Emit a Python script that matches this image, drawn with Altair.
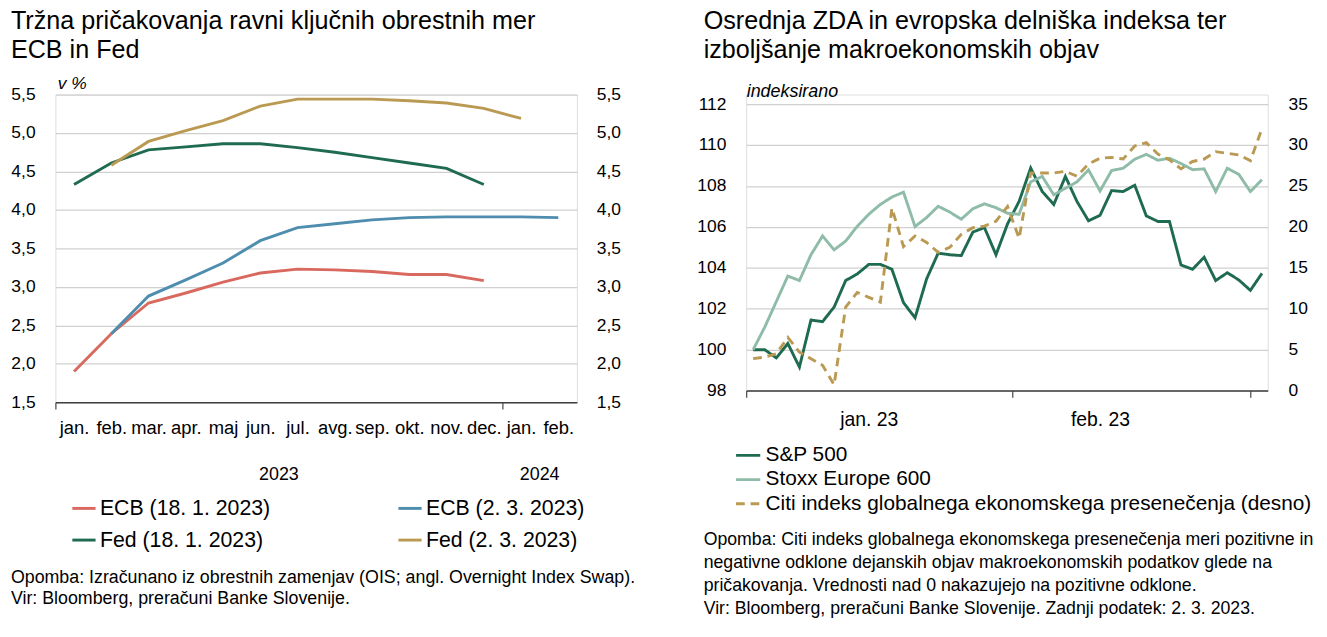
import altair as alt
import pandas as pd

FONT = "Liberation Sans, Arial, sans-serif"

# ---------------- left panel data ----------------
MONTHS = ["jan.", "feb.", "mar.", "apr.", "maj", "jun.", "jul.", "avg.",
          "sep.", "okt.", "nov.", "dec.", "jan.", "feb."]
YEARS = ["2023", "2024"]
YEAR_POS = [5.5, 12.5]
SER_L = ["ECB (18. 1. 2023)", "ECB (2. 3. 2023)", "Fed (18. 1. 2023)", "Fed (2. 3. 2023)"]
COL_L = ["#D9695F", "#4F8DAF", "#1F6B4F", "#BA9A52"]
ECB_JAN = [1.90, 2.39, 2.79, 2.92, 3.06, 3.18, 3.23, 3.22, 3.20, 3.16, 3.16, 3.08]
ECB_MAR = [None, 2.39, 2.88, 3.09, 3.31, 3.60, 3.77, 3.82, 3.87, 3.90, 3.91, 3.91, 3.91, 3.90]
FED_JAN = [4.33, 4.61, 4.78, 4.82, 4.86, 4.86, 4.81, 4.75, 4.68, 4.61, 4.54, 4.33]
FED_MAR = [None, 4.58, 4.89, 5.03, 5.16, 5.35, 5.44, 5.44, 5.44, 5.42, 5.39, 5.32, 5.19]
Y_TICKS_L = [1.5, 2.0, 2.5, 3.0, 3.5, 4.0, 4.5, 5.0, 5.5]
TITLE_L = ["Tržna pričakovanja ravni ključnih obrestnih mer", "ECB in Fed"]
NOTE_L = ["Opomba: Izračunano iz obrestnih zamenjav (OIS; angl. Overnight Index Swap).",
          "Vir: Bloomberg, preračuni Banke Slovenije."]

# ---------------- right panel data ----------------
SPX = [100.0, 100.0, 99.6, 100.3, 99.15, 101.45, 101.37, 102.08, 103.38, 103.7,
       104.17, 104.17, 103.93, 102.3, 101.56, 103.46, 104.72, 104.64, 104.6, 105.75,
       105.97, 104.64, 106.15, 107.25, 108.88, 107.73, 107.1, 108.47, 107.25, 106.3,
       106.57, 107.78, 107.73, 108.04, 106.54, 106.27, 106.27, 104.14, 103.93, 104.52,
       103.38, 103.76, 103.41, 102.9, 103.73]
STOXX = [100.0, 101.1, 102.35, 103.6, 103.38, 104.64, 105.56, 104.88, 105.31, 106.03,
         106.62, 107.1, 107.46, 107.7, 106.02, 106.46, 107.01, 106.73, 106.38, 106.89,
         107.13, 106.94, 106.67, 106.62, 108.2, 108.47, 107.57, 107.89, 108.2, 108.79,
         107.76, 108.76, 108.87, 109.31, 109.55, 109.26, 109.36, 109.1, 108.8, 108.84,
         107.73, 108.87, 108.57, 107.73, 108.31]
CITI = [3.9, 4.1, 4.5, 6.5, 4.7, 3.9, 3.1, 0.7, 10.2, 12.0,
        11.4, 10.8, 22.3, 17.6, 18.9, 18.1, 16.9, 17.5, 19.1, 19.9,
        20.1, 20.7, 22.5, 18.6, 26.6, 26.6, 26.6, 26.8, 26.2, 27.7,
        28.4, 28.5, 28.3, 29.9, 30.3, 28.9, 28.2, 27.1, 28.0, 28.3,
        29.2, 29.0, 28.8, 28.1, 32.0]
SER_R = ["S&P 500", "Stoxx Europe 600", "Citi indeks globalnega ekonomskega presenečenja (desno)"]
COL_R = ["#1F6B4F", "#8FBCA8", "#BA9A52"]
DASH_R = [[1, 0], [1, 0], [9, 6]]
MONTH_LABELS_R = ["jan. 23", "feb. 23"]
MONTH_LABEL_POS_R = [10, 30]
MONTH_TICKS_R = [-0.6, 22.4, 43]
Y_TICKS_R1 = [98, 100, 102, 104, 106, 108, 110, 112]
Y_TICKS_R2 = [0, 5, 10, 15, 20, 25, 30, 35]
TITLE_R = ["Osrednja ZDA in evropska delniška indeksa ter", "izboljšanje makroekonomskih objav"]
NOTE_R = ["Opomba: Citi indeks globalnega ekonomskega presenečenja meri pozitivne in",
          "negativne odklone dejanskih objav makroekonomskih podatkov glede na",
          "pričakovanja. Vrednosti nad 0 nakazujejo na pozitivne odklone.",
          "Vir: Bloomberg, preračuni Banke Slovenije. Zadnji podatek: 2. 3. 2023."]

W = 539
H_L = 318
H_R = 306
# right panel: the 112 / 35 gridline sits 10 px below the panel top
R1_TOP = 98 + 14 * H_R / 296.0
R2_TOP = 35 * H_R / 296.0

# ---------------- build tables ----------------
rows = []
for name, vals in zip(SER_L, [ECB_JAN, ECB_MAR, FED_JAN, FED_MAR]):
    for i, v in enumerate(vals):
        if v is not None:
            rows.append({"i": i, "v": v, "s": name})
df_l = pd.DataFrame(rows)
df_years = pd.DataFrame({"i": YEAR_POS, "t": YEARS})
df_note_l = pd.DataFrame({"t": ["\n".join(NOTE_L)]})

rows = []
for name, vals in zip(SER_R[:2], [SPX, STOXX]):
    for i, v in enumerate(vals):
        rows.append({"i": i, "v": v, "s": name})
df_idx = pd.DataFrame(rows)
df_citi = pd.DataFrame({"i": list(range(len(CITI))), "v": CITI, "s": SER_R[2]})
df_note_r = pd.DataFrame({"t": ["\n".join(NOTE_R)]})

GRID = "#D0D0D0"
AXIS = "#404040"


def title_layers(lines, x):
    out = []
    for k, line in enumerate(lines):
        out.append(alt.Chart(pd.DataFrame({"t": [line]})).mark_text(
            fontSize=26, font=FONT, color="black", align="left", baseline="middle").encode(
            x=alt.value(x), y=alt.value(-76 + 30 * k), text="t:N"))
    return out


# ---------------- left panel ----------------
month_expr = "[" + ",".join("'%s'" % m for m in MONTHS) + "]"
xl_vals = [-0.5] + list(range(len(MONTHS))) + [11.5]
x_left = alt.X("i:Q",
               scale=alt.Scale(domain=[-0.5, 13.5], nice=False, zero=False),
               axis=alt.Axis(values=xl_vals,
                             labelExpr="datum.value == floor(datum.value) ? %s[datum.value] : ''" % month_expr,
                             tickOpacity={"condition": {"test": "datum.value != floor(datum.value)", "value": 1}, "value": 0},
                             tickSize=7, tickColor=AXIS, tickWidth=1.2,
                             domainColor=AXIS, domainWidth=1.5,
                             labelPadding=10, labelFontSize=19, labelFont=FONT, labelColor="black",
                             labelOverlap=False, labelFlush=False, labelBound=False,
                             grid=False, title=None))

y_scale_l = alt.Scale(domain=[1.5, 5.5], nice=False, zero=False)
comma = "replace(format(datum.value, '.1f'), '.', ',')"

lines_l = alt.Chart(df_l).mark_line(strokeWidth=3).encode(
    x=x_left,
    y=alt.Y("v:Q", scale=y_scale_l,
            axis=alt.Axis(values=Y_TICKS_L, labelExpr=comma, orient="left",
                          domain=False, ticks=False, grid=True, gridColor=GRID, gridWidth=1.3,
                          labelPadding=21, labelFontSize=18, labelFont=FONT, labelColor="black",
                          title="v %", titleAngle=0, titleAlign="left", titleBaseline="alphabetic",
                          titleX=2, titleY=-6, titleFontSize=18, titleFont=FONT,
                          titleFontStyle="italic", titleFontWeight="normal", titleColor="black")),
    color=alt.Color("s:N", scale=alt.Scale(domain=SER_L, range=COL_L),
                    legend=alt.Legend(orient="none", legendX=16, legendY=414, columns=2,
                                      direction="horizontal",
                                      columnPadding=125, rowPadding=8, title=None,
                                      symbolType="stroke", symbolSize=576, symbolStrokeWidth=3,
                                      labelFontSize=22, labelFont=FONT, labelColor="black",
                                      labelOffset=3, labelLimit=400)),
)

mirror_l = alt.Chart(df_l).mark_line(strokeOpacity=0).encode(
    x=x_left,
    y=alt.Y("v:Q", scale=y_scale_l,
            axis=alt.Axis(values=Y_TICKS_L, labelExpr=comma, orient="right",
                          domain=False, ticks=False, grid=False,
                          labelPadding=20, labelFontSize=18, labelFont=FONT, labelColor="black",
                          title=None)),
)

years_l = alt.Chart(df_years).mark_text(fontSize=18.5, font=FONT, color="black", baseline="middle").encode(
    x=x_left, y=alt.value(H_L + 74), text="t:N")

note_l = alt.Chart(df_note_l).mark_text(fontSize=18.4, font=FONT, color="black", align="left",
                                        baseline="middle", lineBreak="\n", lineHeight=22).encode(
    x=alt.value(-46), y=alt.value(499), text="t:N")

left = alt.layer(lines_l, mirror_l, years_l, note_l, *title_layers(TITLE_L, -46)).resolve_axis(
    y="independent").properties(width=W, height=H_L)

# ---------------- right panel ----------------
xr_vals = MONTH_TICKS_R + MONTH_LABEL_POS_R
lab_r = "datum.value == %d ? '%s' : datum.value == %d ? '%s' : ''" % (
    MONTH_LABEL_POS_R[0], MONTH_LABELS_R[0], MONTH_LABEL_POS_R[1], MONTH_LABELS_R[1])
tick_test = " || ".join("datum.value == %s" % t for t in MONTH_TICKS_R)
x_right = alt.X("i:Q",
                scale=alt.Scale(domain=[-0.6, 44.5], nice=False, zero=False),
                axis=alt.Axis(values=xr_vals, labelExpr=lab_r,
                              tickOpacity={"condition": {"test": tick_test, "value": 1}, "value": 0},
                              tickSize=7, tickColor=AXIS, tickWidth=1.2,
                              domainColor=AXIS, domainWidth=1.5,
                              labelPadding=13.5, labelFontSize=20, labelFont=FONT, labelColor="black",
                              labelOverlap=False, labelFlush=False, labelBound=False,
                              grid=False, title=None))

color_r = alt.Color("s:N", scale=alt.Scale(domain=SER_R, range=COL_R),
                    legend=alt.Legend(orient="none", legendX=-12, legendY=359, direction="vertical",
                                      title=None, symbolType="stroke", symbolSize=625,
                                      symbolStrokeWidth=3, rowPadding=0,
                                      labelFontSize=21.5, labelFont=FONT, labelColor="black",
                                      labelOffset=4, labelLimit=700))
dash_r = alt.StrokeDash("s:N", scale=alt.Scale(domain=SER_R, range=DASH_R), legend=None)

idx_lines = alt.Chart(df_idx).mark_line(strokeWidth=3).encode(
    x=x_right,
    y=alt.Y("v:Q", scale=alt.Scale(domain=[98, R1_TOP], nice=False, zero=False),
            axis=alt.Axis(values=Y_TICKS_R1, orient="left", domain=False, ticks=False,
                          grid=True, gridColor=GRID, gridWidth=1.3,
                          labelPadding=21, labelFontSize=18, labelFont=FONT, labelColor="black",
                          title="indeksirano", titleAngle=0, titleAlign="left",
                          titleBaseline="alphabetic", titleX=0, titleY=2, titleFontSize=18.5,
                          titleFont=FONT, titleFontStyle="italic", titleFontWeight="normal",
                          titleColor="black")),
    color=color_r, strokeDash=dash_r,
)

citi_line = alt.Chart(df_citi).mark_line(strokeWidth=3).encode(
    x=x_right,
    y=alt.Y("v:Q", scale=alt.Scale(domain=[0, R2_TOP], nice=False, zero=False),
            axis=alt.Axis(values=Y_TICKS_R2, orient="right", domain=False, ticks=False, grid=False,
                          labelPadding=21, labelFontSize=18, labelFont=FONT, labelColor="black",
                          title=None)),
    color=color_r, strokeDash=dash_r,
)

note_r = alt.Chart(df_note_r).mark_text(fontSize=18.3, font=FONT, color="black", align="left",
                                        baseline="middle", lineBreak="\n", lineHeight=23.5).encode(
    x=alt.value(-44), y=alt.value(461), text="t:N")

right = alt.layer(idx_lines, citi_line, note_r, *title_layers(TITLE_R, -44)).resolve_scale(
    y="independent").properties(width=W, height=H_R)

chart = alt.hconcat(left, right, spacing=62).resolve_scale(
    color="independent", strokeDash="independent"
).properties(
    padding={"left": 2, "top": -11, "right": 5, "bottom": 2}
).configure_view(stroke=None).configure(background="white")

chart.save("out.html", embed_options={"renderer": "svg", "actions": False})
